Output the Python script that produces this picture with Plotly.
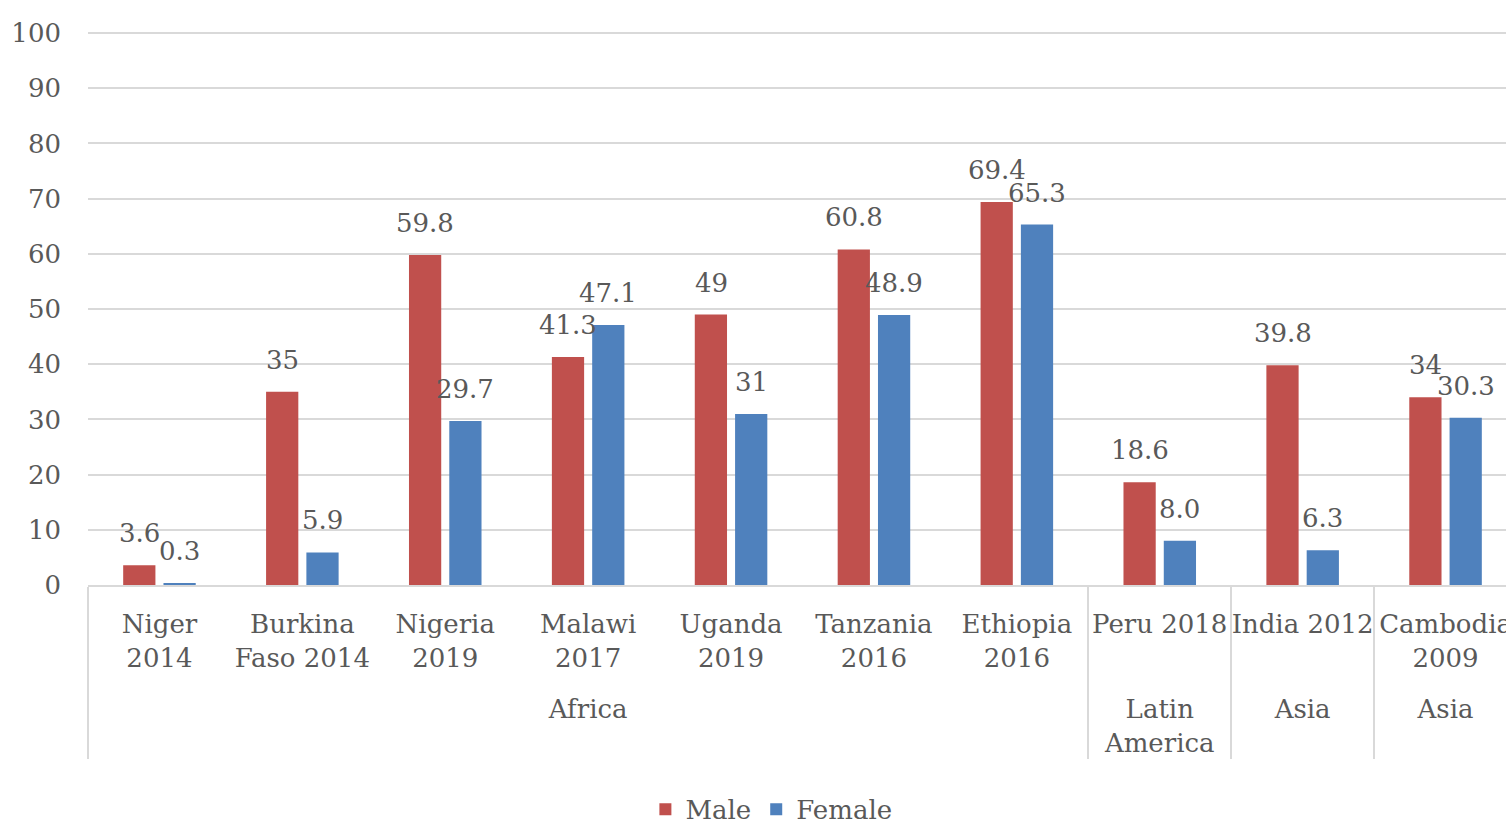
import plotly.graph_objects as go

regions = ["<br>Africa"] * 7 + ["<br>Latin<br>America", "<br>Asia", "<br>\u200bAsia"]
countries = ["Niger<br>2014", "Burkina<br>Faso 2014", "Nigeria<br>2019", "Malawi<br>2017",
             "Uganda<br>2019", "Tanzania<br>2016", "Ethiopia<br>2016", "Peru 2018",
             "India 2012", "Cambodia<br>2009"]
male = [3.6, 35, 59.8, 41.3, 49, 60.8, 69.4, 18.6, 39.8, 34]
female = [0.3, 5.9, 29.7, 47.1, 31, 48.9, 65.3, 8.0, 6.3, 30.3]
male_labels = ["3.6", "35", "59.8", "41.3", "49", "60.8", "69.4", "18.6", "39.8", "34"]
female_labels = ["0.3", "5.9", "29.7", "47.1", "31", "48.9", "65.3", "8.0", "6.3", "30.3"]
y_ticks = list(range(0, 101, 10))

FONT = "DejaVu Serif"
GRAY = "#595959"
RED = "#C0504D"
BLUE = "#4F81BD"
FS = 26

fig = go.Figure()
fig.add_trace(go.Bar(name="Male", x=[regions, countries], y=male,
                     marker=dict(color=RED, line=dict(width=0))))
fig.add_trace(go.Bar(name="Female", x=[regions, countries], y=female,
                     marker=dict(color=BLUE, line=dict(width=0))))

annotations = []
for i, (v, t) in enumerate(zip(male, male_labels)):
    annotations.append(dict(x=i, y=v, text=t, xref="x", yref="y", showarrow=False,
                            xshift=-20, yshift=32, yanchor="middle",
                            font=dict(family=FONT, size=FS, color=GRAY)))
for i, (v, t) in enumerate(zip(female, female_labels)):
    annotations.append(dict(x=i, y=v, text=t, xref="x", yref="y", showarrow=False,
                            xshift=20, yshift=32, yanchor="middle",
                            font=dict(family=FONT, size=FS, color=GRAY)))

fig.update_layout(
    width=1517, height=825,
    margin=dict(l=88, r=0, t=30, b=240, autoexpand=False),
    paper_bgcolor="white", plot_bgcolor="white",
    barmode="group", bargap=0.436, bargroupgap=0.2,
    font=dict(family=FONT, size=FS, color=GRAY),
    showlegend=True,
    legend=dict(orientation="h", xref="container", yref="container",
                x=0.5085, y=0.019, xanchor="center", yanchor="middle",
                font=dict(family=FONT, size=FS, color=GRAY),
                itemwidth=30, traceorder="normal"),
    annotations=annotations,
    xaxis=dict(type="multicategory", showgrid=False, showline=True,
               linecolor="#D9D9D9", linewidth=2, ticks="", tickangle=0,
               automargin=False, ticklabelstandoff=15,
               showdividers=True, dividercolor="#D9D9D9", dividerwidth=2,
               tickfont=dict(family=FONT, size=FS, color=GRAY)),
    yaxis=dict(range=[0, 100.5435], tickvals=y_ticks, showgrid=True,
               gridcolor="#D9D9D9", gridwidth=2, zeroline=False, automargin=False,
               showline=False, ticks="", ticklabelstandoff=26,
               tickfont=dict(family=FONT, size=FS, color=GRAY)),
)

page_css = ("document.documentElement.style.overflow='hidden';"
            "document.body.style.overflow='hidden';"
            "document.body.style.margin='0';")

fig.write_html("out.html", post_script=page_css, config={"displayModeBar": False})
